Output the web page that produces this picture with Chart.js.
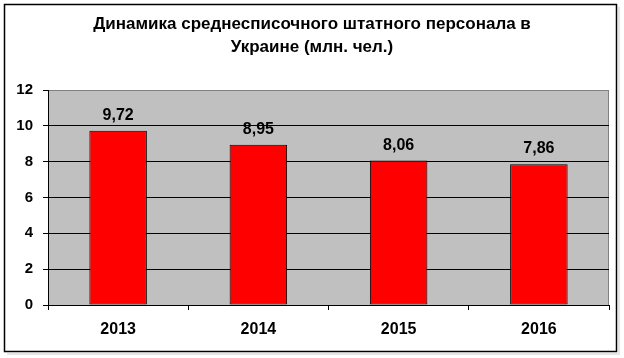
<!DOCTYPE html>
<html>
<head>
<meta charset="utf-8">
<script src="https://cdn.jsdelivr.net/npm/chart.js@4"></script>
<style>
  html, body { margin: 0; padding: 0; background: #fff; }
  #wrap { width: 624px; height: 358px; position: relative; }
</style>
</head>
<body>
<div id="wrap"><canvas id="c" width="624" height="358"></canvas></div>
<script>
const categories = ['2013', '2014', '2015', '2016'];
const values = [9.72, 8.95, 8.06, 7.86];
const yTicks = [0, 2, 4, 6, 8, 10, 12];
const titleLines = ['Динамика среднесписочного штатного персонала в', 'Украине (млн. чел.)'];

const FONT = 'Arial, "Liberation Sans", sans-serif';

const plotBg = {
  id: 'plotBg',
  beforeDraw(chart) {
    const {ctx, chartArea: a} = chart;
    ctx.save();
    ctx.fillStyle = '#fff';
    ctx.fillRect(0, 0, chart.width, chart.height);
    ctx.fillStyle = '#c0c0c0';
    ctx.fillRect(a.left, a.top, a.right - a.left, a.bottom - a.top);
    ctx.strokeStyle = '#808080';
    ctx.lineWidth = 1;
    ctx.beginPath();
    ctx.moveTo(Math.round(a.right) - 0.5, a.top);
    ctx.lineTo(Math.round(a.right) - 0.5, a.bottom);
    ctx.stroke();
    ctx.restore();
  },
  afterDraw(chart) {
    const {ctx} = chart;
    ctx.save();
    ctx.strokeStyle = '#e6e6e6';
    ctx.lineWidth = 2;
    ctx.beginPath();
    ctx.moveTo(619, 7); ctx.lineTo(619, 354); ctx.lineTo(7, 354);
    ctx.stroke();
    ctx.strokeStyle = '#000';
    ctx.lineWidth = 1.5;
    ctx.strokeRect(4.5, 4.5, 612, 347);
    ctx.restore();
  }
};

const dataLabels = {
  id: 'dataLabels',
  afterDatasetsDraw(chart) {
    const {ctx} = chart;
    const meta = chart.getDatasetMeta(0);
    ctx.save();
    ctx.font = 'bold 16px ' + FONT;
    ctx.fillStyle = '#000';
    ctx.textAlign = 'center';
    ctx.textBaseline = 'alphabetic';
    meta.data.forEach((bar, i) => {
      const txt = values[i].toFixed(2).replace('.', ',');
      ctx.fillText(txt, bar.x, bar.y - 11);
    });
    ctx.restore();
  }
};

new Chart(document.getElementById('c'), {
  type: 'bar',
  data: {
    labels: categories,
    datasets: [{
      data: values,
      backgroundColor: '#ff0000',
      borderColor: '#000000',
      borderWidth: 1,
      borderSkipped: false,
      barPercentage: 0.41,
      categoryPercentage: 1.0
    }]
  },
  options: {
    responsive: false,
    animation: false,
    devicePixelRatio: 1,
    layout: { padding: { left: 15, right: 15, top: 0, bottom: 0 } },
    plugins: {
      legend: { display: false },
      tooltip: { enabled: false },
      title: {
        display: true,
        text: titleLines,
        color: '#000',
        font: { family: FONT, size: 17, weight: 'bold', lineHeight: '23px' },
        padding: { top: 13, bottom: 31 }
      }
    },
    scales: {
      x: {
        afterFit(s) { s.height = 53; },
        grid: {
          display: true,
          drawOnChartArea: false,
          drawTicks: true,
          tickLength: 5,
          color: '#000',
          tickColor: '#000',
          offset: true
        },
        border: { display: true, color: '#000', width: 1 },
        ticks: {
          color: '#000',
          padding: 10,
          font: { family: FONT, size: 16, weight: 'bold' }
        }
      },
      y: {
        min: 0,
        max: 12,
        afterFit(s) { s.width = 33; },
        afterBuildTicks(s) { s.ticks = yTicks.map(v => ({ value: v })); },
        grid: {
          color: (c) => (c.tick && c.tick.value === 12 ? '#808080' : '#000'),
          tickColor: '#000',
          tickLength: 5,
          lineWidth: 1
        },
        border: { display: true, color: '#000', width: 1 },
        ticks: {
          stepSize: 2,
          color: '#000',
          padding: 10,
          font: { family: FONT, size: 15, weight: 'bold' }
        }
      }
    }
  },
  plugins: [plotBg, dataLabels]
});
</script>
</body>
</html>
